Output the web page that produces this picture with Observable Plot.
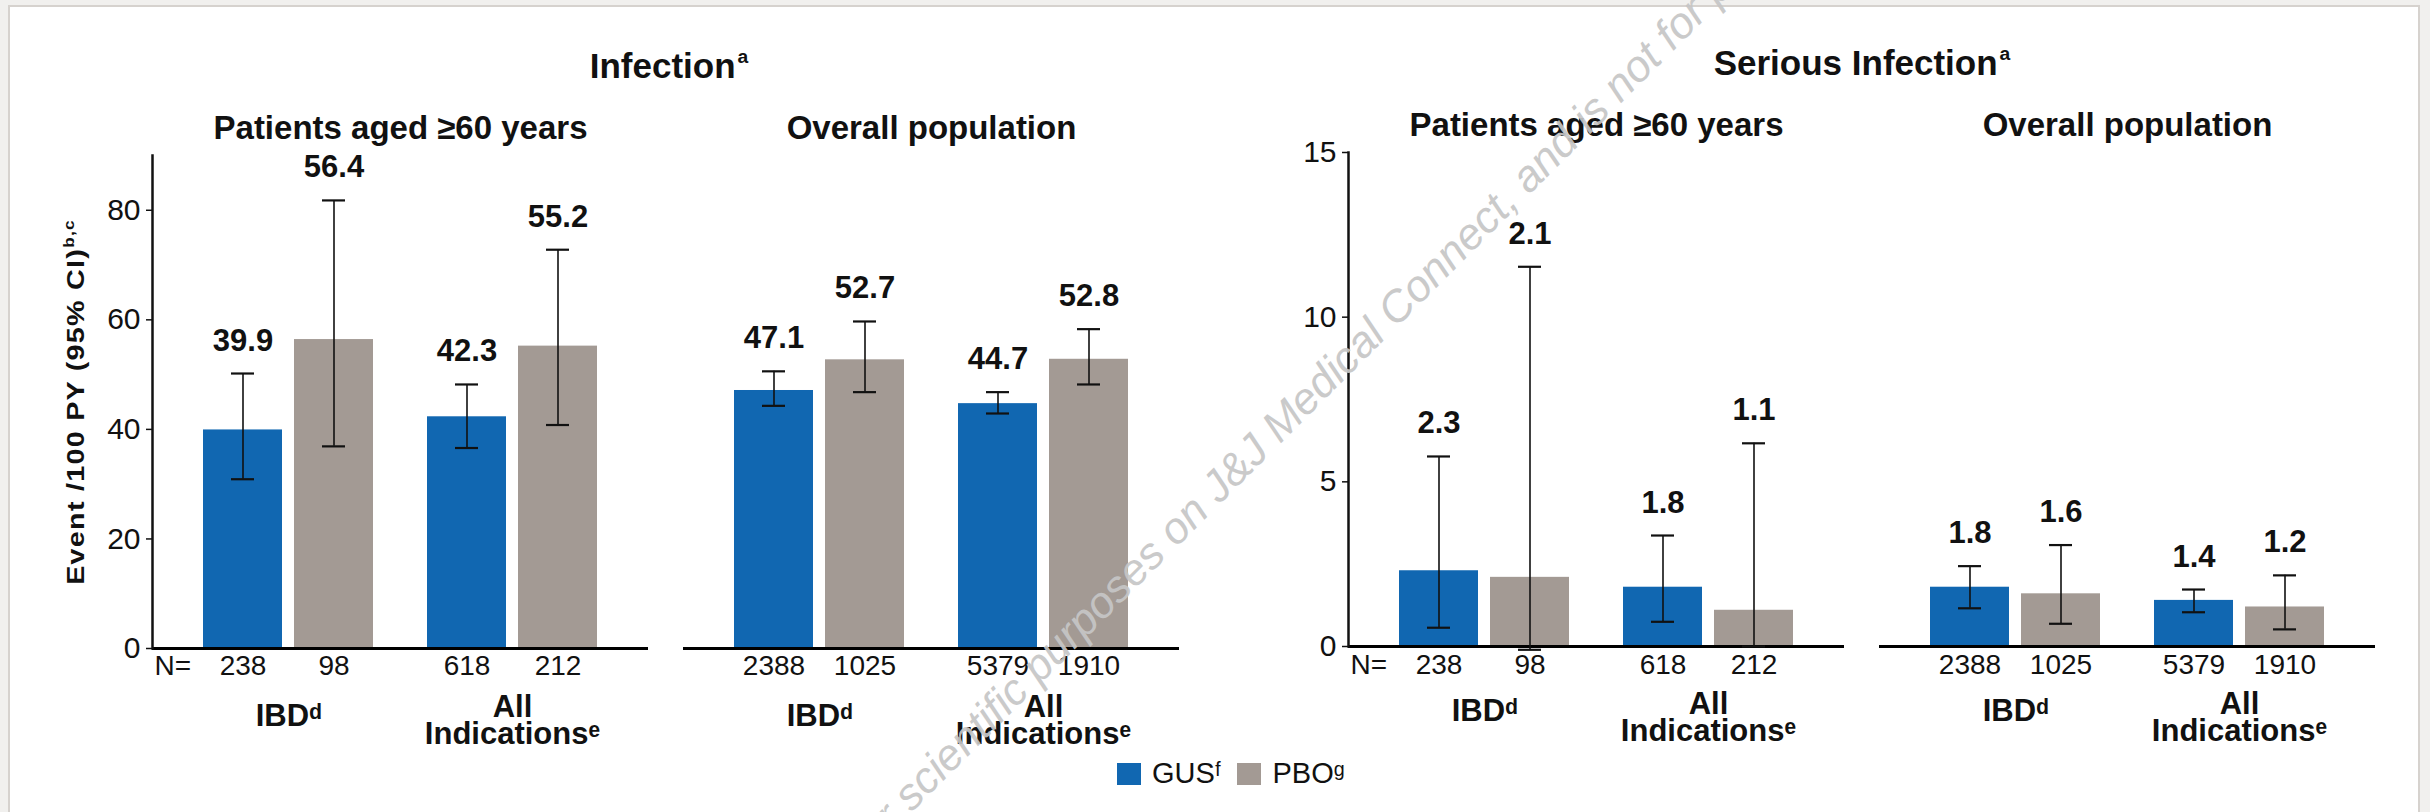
<!DOCTYPE html>
<html>
<head>
<meta charset="utf-8">
<script src="https://cdn.jsdelivr.net/npm/d3@7"></script>
<script src="https://cdn.jsdelivr.net/npm/@observablehq/plot@0.6"></script>
<style>
  html, body { margin: 0; padding: 0; }
  body { width: 2430px; height: 812px; overflow: hidden; position: relative; background: #f1f0ee;
         font-family: "Liberation Sans", Arial, Helvetica, sans-serif; color: #111; }
  #panel { position: absolute; left: 8px; top: 5px; width: 2408px; height: 830px; background: #fff; border: 2px solid #d6d2ce; }
  .chart { position: absolute; top: 0; }
  .title { position: absolute; font-weight: bold; font-size: 35px; line-height: 35px; text-align: center; white-space: nowrap; }
  .title sup { font-size: 0.55em; line-height: 0; vertical-align: 0.8em; margin-left: 2px; }
  #ytitle { position: absolute; left: 76px; top: 402px; white-space: nowrap; font-family: "Liberation Sans", Arial, sans-serif;
            font-weight: bold; font-size: 23px; line-height: 23px; letter-spacing: 1px;
            transform: translate(-50%, -50%) rotate(-90deg) scaleX(1.25); transform-origin: 50% 50%; }
  #ytitle sup { font-size: 0.6em; line-height: 0; vertical-align: 0.7em; }
  #legend { position: absolute; left: 1117px; top: 757px; }
  .lg-swatch > svg { margin-right: 11px; }
  .lg-swatch { margin-right: 16px; }
  #watermark { position: absolute; left: 856px; top: 825px; font-size: 44px; line-height: 44px; font-style: italic;
               color: #c6c6c6; white-space: nowrap; transform-origin: 0 50%; transform: rotate(-45deg); opacity: 0.92; }
</style>
</head>
<body>
<div id="panel"></div>
<div id="left" class="chart" style="left:0px"></div>
<div id="right" class="chart" style="left:1215px"></div>
<div class="title" style="left:469px; width:400px; top:48px">Infection<sup>a</sup></div>
<div class="title" style="left:1662px; width:400px; top:45px">Serious Infection<sup>a</sup></div>
<div id="ytitle">Event /100 PY (95% CI)<sup>b,c</sup></div>
<div id="legend"></div>
<div id="watermark">for scientific purposes on J&amp;J Medical Connect, and is not for promotional use</div>
<script>
// ---------- data ----------
const panels = ["Patients aged ≥60 years", "Overall population"];
const groups = ["IBD", "All"];
const groupLabels = ["IBDᵈ", "All\nIndicationsᵉ"];
const treatments = ["GUSᶠ", "PBOᵍ"];
const colors = ["#1167b1", "#a39a94"];

// order in each array: [≥60 IBD, ≥60 All Indications, Overall IBD, Overall All Indications]
const nGUS = [238, 618, 2388, 5379];
const nPBO = [98, 212, 1025, 1910];

// Infection (event/100 PY, 95% CI)
const infGUS   = [39.9, 42.3, 47.1, 44.7];
const infGUSLo = [30.9, 36.6, 44.3, 42.9];
const infGUSHi = [50.2, 48.2, 50.6, 46.8];
const infPBO   = [56.4, 55.2, 52.7, 52.8];
const infPBOLo = [36.9, 40.8, 46.8, 48.2];
const infPBOHi = [81.8, 72.8, 59.7, 58.3];

// Serious infection (event/100 PY, 95% CI)
const serGUS   = [2.3, 1.8, 1.8, 1.4];
const serGUSLo = [0.57, 0.75, 1.16, 1.04];
const serGUSHi = [5.77, 3.37, 2.44, 1.73];
const serPBO   = [2.1, 1.1, 1.6, 1.2];
const serPBOLo = [-0.1, 0.0, 0.69, 0.52];
const serPBOHi = [11.53, 6.17, 3.08, 2.16];

const infTicks = [0, 20, 40, 60, 80];
const serTicks = [0, 5, 10, 15];

// ---------- build tables ----------
function buildRows(gus, gusLo, gusHi, pbo, pboLo, pboHi) {
  const rows = [];
  panels.forEach((p, pi) => groups.forEach((g, gi) => {
    const k = pi * groups.length + gi;
    rows.push({panel: p, group: g, trt: "GUS", value: gus[k], lo: gusLo[k], hi: gusHi[k], n: nGUS[k]});
    rows.push({panel: p, group: g, trt: "PBO", value: pbo[k], lo: pboLo[k], hi: pboHi[k], n: nPBO[k]});
  }));
  return rows;
}

const FONT = '"Liberation Sans", Arial, Helvetica, sans-serif';
const BAR = 79, GAP = 12, BAND = 2 * BAR + GAP, OFF = (BAR + GAP) / 2, CAP = 23;
const fmt = d3.format(".1f");

function makeChart(cfg) {
  const rows = cfg.rows;
  const cats = panels.flatMap(p => groups.map((g, i) => ({panel: p, group: g, label: groupLabels[i]})));
  const single = cats.filter(d => !d.label.includes("\n"));
  const multi = cats.filter(d => d.label.includes("\n"));
  const series = [
    {data: rows.filter(d => d.trt === "GUS"), side: -1, fill: colors[0]},
    {data: rows.filter(d => d.trt === "PBO"), side: 1, fill: colors[1]}
  ];
  const marks = [];
  for (const s of series) {
    marks.push(Plot.barY(s.data, {fx: "panel", x: "group", y: "value", fill: s.fill,
      insetLeft: s.side > 0 ? BAND - BAR : 0, insetRight: s.side < 0 ? BAND - BAR : 0}));
  }
  marks.push(Plot.ruleY([0], {stroke: "#000", strokeWidth: 3}));
  for (const s of series) {
    const c = BAND / 2 + s.side * OFF;
    marks.push(Plot.ruleX(s.data, {fx: "panel", x: "group", y1: "lo", y2: "hi", dx: s.side * OFF, stroke: "#111", strokeWidth: 1.6}));
    marks.push(Plot.tickY(s.data, {fx: "panel", x: "group", y: "hi", insetLeft: c - CAP / 2, insetRight: BAND - c - CAP / 2, stroke: "#111", strokeWidth: 2.2}));
    marks.push(Plot.tickY(s.data, {fx: "panel", x: "group", y: "lo", insetLeft: c - CAP / 2, insetRight: BAND - c - CAP / 2, stroke: "#111", strokeWidth: 2.2}));
    marks.push(Plot.text(s.data, {fx: "panel", x: "group", y: "hi", text: d => fmt(d.value), dx: s.side * OFF, dy: -23,
      lineAnchor: "bottom", fontSize: 31, fontWeight: "bold", fill: "#111"}));
    marks.push(Plot.text(s.data, {fx: "panel", x: "group", frameAnchor: "bottom", text: d => String(d.n), dx: s.side * OFF, dy: cfg.nDy,
      lineAnchor: "bottom", fontSize: 28, fill: "#111"}));
  }
  marks.push(
    Plot.frame({anchor: "left", facetAnchor: "left", stroke: "#111", strokeWidth: 2.5}),
    Plot.axisY({ticks: cfg.ticks, tickSize: 6, tickPadding: 6, fontSize: 30, label: null, strokeWidth: 1.5, tickFormat: d => String(d)}),
    Plot.text([panels[0]], {fx: d => d, frameAnchor: "bottom-left", text: () => "N=", textAnchor: "start", dx: 2, dy: cfg.nDy,
      lineAnchor: "bottom", fontSize: 28, fill: "#111"}),
    Plot.text(single, {fx: "panel", x: "group", frameAnchor: "bottom", text: "label", dy: cfg.catDy1, lineAnchor: "bottom",
      fontSize: 31, fontWeight: "bold", fill: "#111"}),
    Plot.text(multi, {fx: "panel", x: "group", frameAnchor: "bottom", text: "label", dy: cfg.catDy2, lineAnchor: "bottom",
      lineHeight: 0.84, fontSize: 31, fontWeight: "bold", fill: "#111"}),
    Plot.text(panels, {fx: d => d, text: d => d, frameAnchor: "top", dy: -17, lineAnchor: "bottom",
      fontSize: 33, fontWeight: "bold", fill: "#111"})
  );
  return Plot.plot({
    width: 1215, height: 812,
    marginLeft: cfg.marginLeft, marginRight: 1215 - cfg.marginLeft - 1027,
    marginTop: cfg.marginTop, marginBottom: cfg.marginBottom,
    style: {background: "transparent", fontFamily: FONT, color: "#111", overflow: "visible"},
    fx: {domain: panels, paddingInner: 35 / 531, paddingOuter: 0, axis: null, label: null},
    x: {domain: groups, paddingInner: 54 / 224, paddingOuter: 51 / 224, axis: null},
    y: {domain: cfg.yDomain, axis: null},
    marks
  });
}

document.getElementById("left").appendChild(makeChart({
  rows: buildRows(infGUS, infGUSLo, infGUSHi, infPBO, infPBOLo, infPBOHi),
  yDomain: [0, 90], ticks: infTicks,
  marginLeft: 152, marginTop: 155, marginBottom: 812 - 648,
  nDy: 26, catDy1: 77, catDy2: 95
}));

document.getElementById("right").appendChild(makeChart({
  rows: buildRows(serGUS, serGUSLo, serGUSHi, serPBO, serPBOLo, serPBOHi),
  yDomain: [0, 15], ticks: serTicks,
  marginLeft: 133, marginTop: 152, marginBottom: 812 - 646,
  nDy: 27, catDy1: 74, catDy2: 94
}));

document.getElementById("legend").appendChild(Plot.legend({
  color: {type: "ordinal", domain: treatments, range: colors},
  swatchWidth: 24, swatchHeight: 22, className: "lg",
  style: {fontSize: "29px", fontFamily: FONT, color: "#111"}
}));
</script>
</body>
</html>
